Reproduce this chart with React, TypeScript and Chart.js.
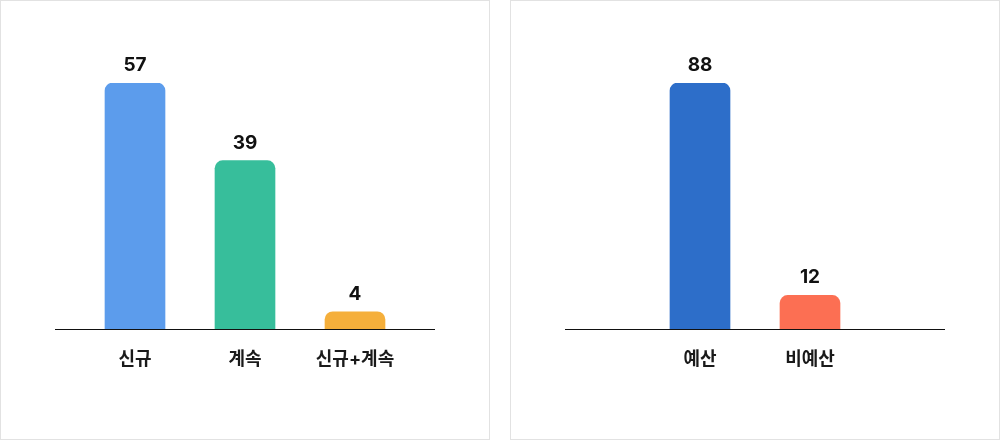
import React, { useRef, useEffect } from 'react';
import { Chart, registerables } from 'chart.js';

Chart.register(...registerables);

// left panel: 과제 구분
const typeLabels = ['신규', '계속', '신규+계속'];
const typeValues = [57, 39, 4];
const typeColors = ['#5C9CEC', '#37BE9B', '#F5AF3B'];

// right panel: 예산 구분
const budgetLabels = ['예산', '비예산'];
const budgetValues = [88, 12];
const budgetColors = ['#2D6EC9', '#FC6F53'];

const PANEL_W = 490;
const PANEL_H = 440;
const CATEGORY_W = 110;
const FONT = "Inter, 'Noto Sans CJK KR', sans-serif";

const baselinePlugin = {
  id: 'baseline',
  afterDatasetsDraw(chart: any) {
    const { ctx, chartArea } = chart;
    const mid = chart.width / 2;
    ctx.save();
    ctx.strokeStyle = '#111';
    ctx.lineWidth = 1;
    ctx.beginPath();
    ctx.moveTo(mid - 190, chartArea.bottom + 0.5);
    ctx.lineTo(mid + 190, chartArea.bottom + 0.5);
    ctx.stroke();
    ctx.restore();
  },
};

const valueLabelPlugin = {
  id: 'valueLabels',
  afterDatasetsDraw(chart: any) {
    const { ctx } = chart;
    const meta = chart.getDatasetMeta(0);
    const data = chart.data.datasets[0].data;
    ctx.save();
    ctx.fillStyle = '#111';
    ctx.font = `bold 19px ${FONT}`;
    ctx.textAlign = 'center';
    ctx.textBaseline = 'alphabetic';
    meta.data.forEach((bar: any, i: number) => {
      ctx.fillText(String(data[i]), bar.x, bar.y - 12);
    });
    ctx.restore();
  },
};

const BarPanel: React.FC<{ labels: string[]; values: number[]; colors: string[]; left: number }> = ({ labels, values, colors, left }) => {
  const canvasRef = useRef<HTMLCanvasElement | null>(null);

  useEffect(() => {
    if (!canvasRef.current) return;
    const side = (PANEL_W - labels.length * CATEGORY_W) / 2;
    const chart = new Chart(canvasRef.current, {
      type: 'bar',
      data: {
        labels,
        datasets: [{
          data: values,
          backgroundColor: colors,
          barThickness: 60,
          borderRadius: 8,
          borderSkipped: 'start',
        }],
      },
      options: {
        responsive: false,
        animation: false,
        devicePixelRatio: 1,
        layout: { padding: { top: 83, left: side, right: side, bottom: 0 } },
        plugins: { legend: { display: false }, tooltip: { enabled: false } },
        scales: {
          x: {
            grid: { display: false, drawTicks: false },
            border: { display: false },
            ticks: { color: '#1a1a1a', font: { family: FONT, size: 18, weight: 'bold' }, padding: 20 },
            afterFit: (scale: any) => { scale.height = 111; },
          },
          y: {
            display: false,
            min: 0,
            max: Math.max(...values),
          },
        },
      },
      plugins: [baselinePlugin, valueLabelPlugin],
    });
    return () => chart.destroy();
  }, [labels, values, colors]);

  return (
    <div style={{ position: 'absolute', left, top: 0, width: PANEL_W, height: PANEL_H, background: '#fff' }}>
      <canvas ref={canvasRef} width={PANEL_W} height={PANEL_H} style={{ position: 'absolute', left: 0, top: 0 }} />
      <div style={{ position: 'absolute', inset: 0, border: '1px solid #e2e2e2', boxSizing: 'border-box', pointerEvents: 'none' }} />
    </div>
  );
};

export default function App() {
  return (
    <div style={{ position: 'fixed', left: 0, top: 0, width: 1000, height: 440, background: '#fff' }}>
      <BarPanel labels={typeLabels} values={typeValues} colors={typeColors} left={0} />
      <BarPanel labels={budgetLabels} values={budgetValues} colors={budgetColors} left={510} />
    </div>
  );
}
